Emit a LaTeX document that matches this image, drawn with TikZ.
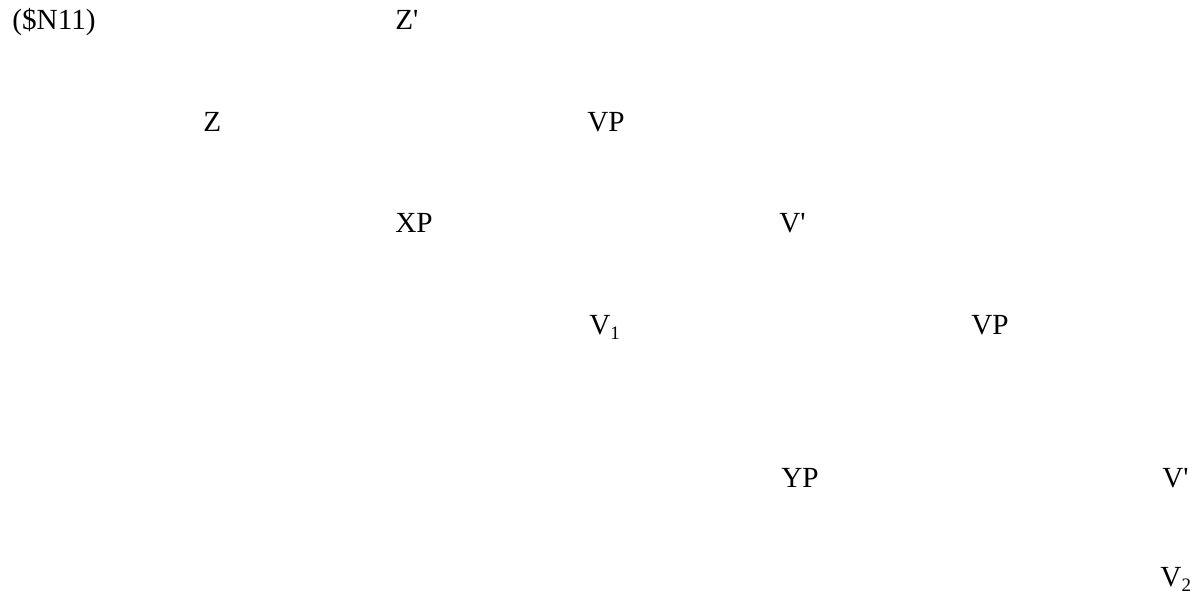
\documentclass[tikz,border=0pt]{standalone}
\usepackage{fontspec}
\setmainfont{Liberation Serif}
\usepackage{tikz}
\newcommand{\prm}{\textquotesingle}
\newcommand{\sub}[1]{\raisebox{-0.15em}{\fontsize{9.5}{10}\selectfont #1}}

\begin{document}
\begin{tikzpicture}[
  x=0.5pt, y=-0.5pt,
  cat/.style={inner sep=0pt, anchor=base west, font=\fontsize{14.6}{17}\selectfont}
]
\useasboundingbox (0,0) rectangle (1199,597);
\node[cat] (label) at (12,30) {(\$N11)};
\node[cat] (zbar) at (395,30) {Z\prm};
\node[cat] (z) at (203,132) {Z};
\node[cat] (vp) at (587,132) {VP};
\node[cat] (xp) at (395,233) {XP};
\node[cat] (vbar) at (779,233) {V\prm};
\node[cat] (vone) at (589,335) {V\sub{1}};
\node[cat] (vplow) at (971,335) {VP};
\node[cat] (yp) at (781,488) {YP};
\node[cat] (vbarlow) at (1162,488) {V\prm};
\node[cat] (vtwo) at (1160,587) {V\sub{2}};
\end{tikzpicture}
\end{document}
